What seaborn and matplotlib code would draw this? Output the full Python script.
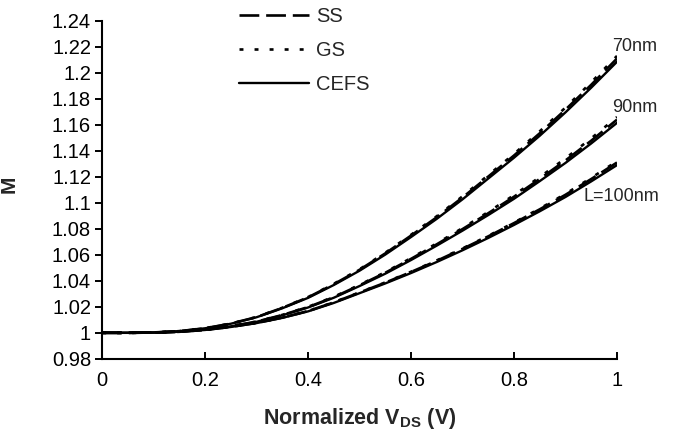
import matplotlib
matplotlib.use("Agg")
import matplotlib.pyplot as plt
from matplotlib.lines import Line2D
import seaborn as sns
import pandas as pd

# Normalized drain voltage
vds = [0.00, 0.05, 0.10, 0.15, 0.20, 0.25, 0.30, 0.35, 0.40, 0.45, 0.50,
       0.55, 0.60, 0.65, 0.70, 0.75, 0.80, 0.85, 0.90, 0.95, 1.00]

# Multiplication factor M, L = 70 nm
m70_ss   = [1.0000, 1.0000, 1.0003, 1.0013, 1.0035, 1.0071, 1.0121, 1.0192, 1.0273, 1.0374, 1.0485,
            1.0611, 1.0748, 1.0889, 1.1041, 1.1202, 1.1364, 1.1535, 1.1717, 1.1908, 1.2110]
m70_gs   = [1.0000, 1.0000, 1.0003, 1.0013, 1.0036, 1.0071, 1.0122, 1.0193, 1.0275, 1.0377, 1.0489,
            1.0616, 1.0754, 1.0897, 1.1050, 1.1213, 1.1376, 1.1550, 1.1733, 1.1927, 1.2130]
m70_cefs = [1.0000, 1.0000, 1.0003, 1.0013, 1.0035, 1.0070, 1.0120, 1.0189, 1.0269, 1.0368, 1.0478,
            1.0602, 1.0737, 1.0877, 1.1027, 1.1187, 1.1347, 1.1516, 1.1696, 1.1886, 1.2085]

# L = 90 nm
m90_ss   = [1.0000, 1.0000, 1.0002, 1.0009, 1.0025, 1.0051, 1.0086, 1.0137, 1.0198, 1.0274, 1.0366,
            1.0462, 1.0569, 1.0681, 1.0798, 1.0920, 1.1047, 1.1184, 1.1326, 1.1478, 1.1640]
m90_gs   = [1.0000, 1.0000, 1.0002, 1.0009, 1.0026, 1.0051, 1.0087, 1.0138, 1.0200, 1.0277, 1.0369,
            1.0467, 1.0575, 1.0688, 1.0806, 1.0930, 1.1059, 1.1198, 1.1342, 1.1496, 1.1660]
m90_cefs = [1.0000, 1.0000, 1.0002, 1.0009, 1.0025, 1.0050, 1.0085, 1.0135, 1.0195, 1.0270, 1.0360,
            1.0455, 1.0560, 1.0671, 1.0786, 1.0906, 1.1031, 1.1167, 1.1307, 1.1457, 1.1615]

# L = 100 nm
m100_ss   = [1.0000, 1.0000, 1.0002, 1.0008, 1.0022, 1.0046, 1.0076, 1.0117, 1.0168, 1.0234, 1.0310,
             1.0386, 1.0468, 1.0554, 1.0646, 1.0742, 1.0844, 1.0950, 1.1062, 1.1183, 1.1310]
m100_gs   = [1.0000, 1.0000, 1.0002, 1.0008, 1.0022, 1.0046, 1.0076, 1.0117, 1.0168, 1.0235, 1.0311,
             1.0388, 1.0470, 1.0557, 1.0649, 1.0746, 1.0848, 1.0956, 1.1069, 1.1192, 1.1320]
m100_cefs = [1.0000, 1.0000, 1.0002, 1.0008, 1.0022, 1.0045, 1.0075, 1.0115, 1.0165, 1.0230, 1.0305,
             1.0380, 1.0460, 1.0545, 1.0635, 1.0730, 1.0830, 1.0935, 1.1045, 1.1165, 1.1290]

models = ["SS", "GS", "CEFS"]
length_labels = ["70nm", "90nm", "L=100nm"]
y_ticks = [0.98, 1.0, 1.02, 1.04, 1.06, 1.08, 1.1, 1.12, 1.14, 1.16, 1.18, 1.2, 1.22, 1.24]
x_ticks = [0, 0.2, 0.4, 0.6, 0.8, 1]

series = {
    ("70nm", "SS"): m70_ss, ("70nm", "GS"): m70_gs, ("70nm", "CEFS"): m70_cefs,
    ("90nm", "SS"): m90_ss, ("90nm", "GS"): m90_gs, ("90nm", "CEFS"): m90_cefs,
    ("L=100nm", "SS"): m100_ss, ("L=100nm", "GS"): m100_gs, ("L=100nm", "CEFS"): m100_cefs,
}

rows = []
for (length, model), vals in series.items():
    for v, m in zip(vds, vals):
        rows.append({"vds": v, "M": m, "length": length, "model": model})
df = pd.DataFrame(rows)

sns.set_theme(style="white")
plt.rcParams["font.family"] = ["Liberation Sans", "DejaVu Sans"]
plt.rcParams["mathtext.fontset"] = "custom"
plt.rcParams["mathtext.rm"] = "Liberation Sans"
plt.rcParams["mathtext.bf"] = "Liberation Sans:bold"

fig = plt.figure(figsize=(6.81, 4.43), dpi=100)
ax = fig.add_axes([0.150, 0.190, 0.756, 0.763])

styles = {
    "SS": dict(linestyle=(0, (7.5, 2.6)), linewidth=1.9),
    "GS": dict(linestyle=(0, (1.5, 4.2)), linewidth=1.9),
    "CEFS": dict(linestyle="-", linewidth=1.7),
}

for length in length_labels:
    for model in ["CEFS", "SS", "GS"]:
        sub = df[(df["length"] == length) & (df["model"] == model)]
        sns.lineplot(data=sub, x="vds", y="M", ax=ax, color="black",
                     legend=False, **styles[model])

ax.set_xlim(0, 1)
ax.set_ylim(0.98, 1.24)
ax.set_xticks(x_ticks)
ax.set_xticklabels([f"{t:g}" for t in x_ticks])
ax.set_yticks(y_ticks)
ax.set_yticklabels([f"{t:g}" for t in y_ticks])

for side in ["top", "right"]:
    ax.spines[side].set_visible(False)
for side in ["left", "bottom"]:
    ax.spines[side].set_color("black")
    ax.spines[side].set_linewidth(1.5)

ax.tick_params(axis="x", direction="in", length=5, width=1.4, pad=9,
               labelsize=14.5, colors="black", bottom=True)
ax.tick_params(axis="y", direction="out", length=5, width=1.4, pad=3,
               labelsize=14.5, colors="black", left=True)

ax.set_xlabel(r"Normalized V$_{\mathbf{DS}}$ (V)", fontsize=15.5, fontweight="bold")
ax.set_ylabel("M", fontsize=15, fontweight="bold")
ax.xaxis.set_label_coords(0.5, -0.14)
ax.yaxis.set_label_coords(-0.163, 0.515)

# curve family labels
label_pos = {"70nm": (0.99, 1.220), "90nm": (0.99, 1.173), "L=100nm": (0.935, 1.105)}
for name in length_labels:
    xp, yp = label_pos[name]
    ax.text(xp, yp, name, fontsize=13, ha="left", va="center", clip_on=False)

handles = [Line2D([], [], color="black", **styles[m]) for m in models]
fig.legend(handles, models, loc="upper left", bbox_to_anchor=(0.333, 1.012),
           frameon=False, fontsize=14.5, handlelength=3.5, handletextpad=0.35,
           labelspacing=0.75, borderaxespad=0.2)

fig.savefig("out.png", dpi=100)
